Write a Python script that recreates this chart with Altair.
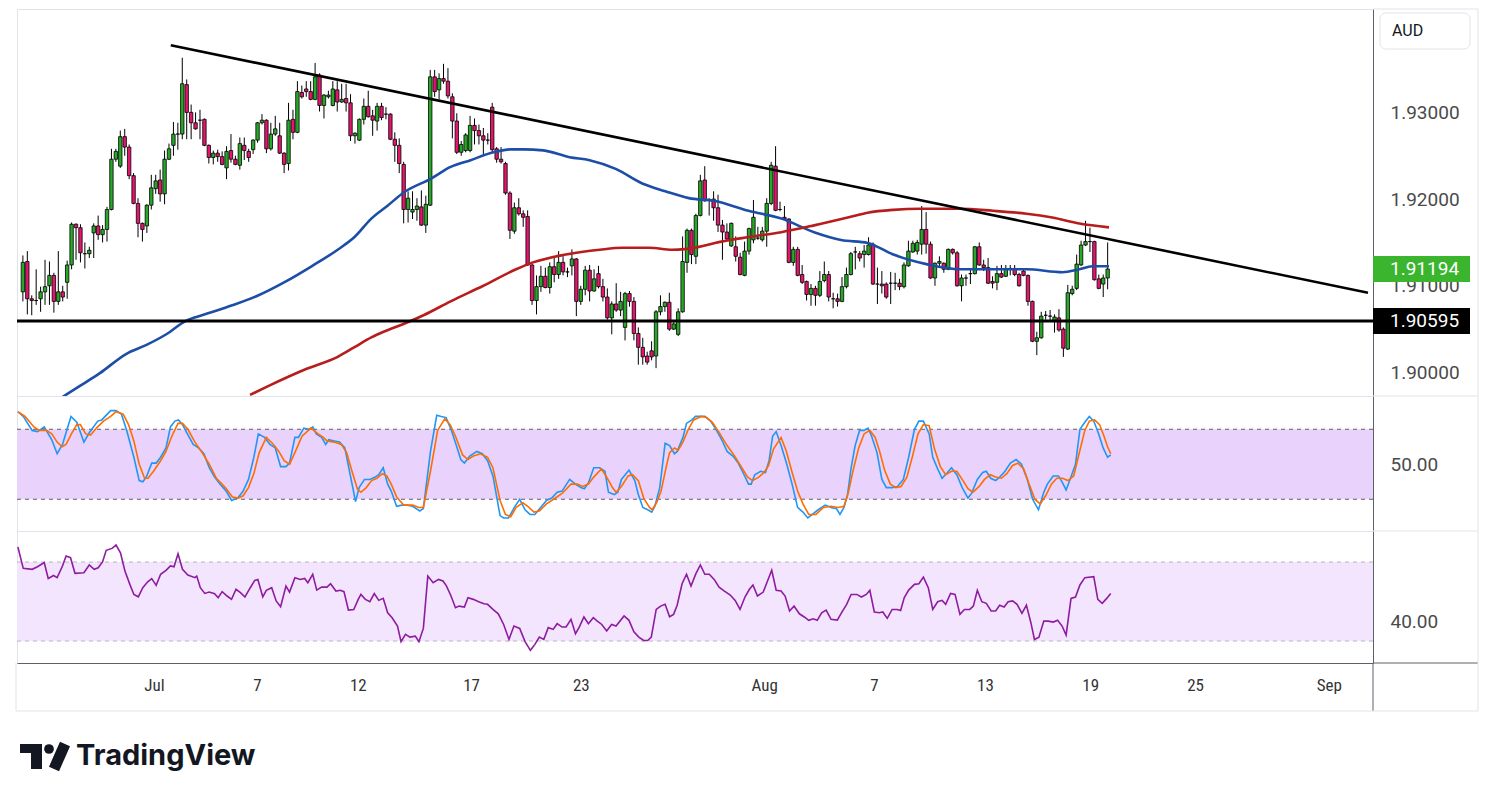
import json
import altair as alt
import pandas as pd

# ---------------- price data (4h candles) ----------------
OPEN = [
    1.9093, 1.9128, 1.9085, 1.9083, 1.9085, 1.9093, 1.9100, 1.9112, 1.9082, 1.9093,
    1.9104, 1.9124, 1.9171, 1.9167, 1.9137, 1.9137, 1.9161, 1.9169, 1.9159, 1.9165,
    1.9188, 1.9246, 1.9238, 1.9272, 1.9260, 1.9227, 1.9195, 1.9172, 1.9169, 1.9193,
    1.9212, 1.9222, 1.9206, 1.9246, 1.9262, 1.9275, 1.9275, 1.9332, 1.9300, 1.9288,
    1.9291, 1.9292, 1.9262, 1.9248, 1.9253, 1.9249, 1.9236, 1.9256, 1.9246, 1.9239,
    1.9262, 1.9255, 1.9257, 1.9268, 1.9288, 1.9291, 1.9258, 1.9275, 1.9273, 1.9253,
    1.9241, 1.9292, 1.9277, 1.9323, 1.9327, 1.9324, 1.9315, 1.9343, 1.9308, 1.9318,
    1.9308, 1.9326, 1.9312, 1.9316, 1.9311, 1.9273, 1.9268, 1.9292, 1.9307, 1.9296,
    1.9290, 1.9307, 1.9298, 1.9298, 1.9269, 1.9262, 1.9240, 1.9188, 1.9185, 1.9188,
    1.9191, 1.9170, 1.9193, 1.9341, 1.9326, 1.9339, 1.9336, 1.9318, 1.9290, 1.9254,
    1.9256, 1.9256, 1.9285, 1.9279, 1.9273, 1.9268, 1.9306, 1.9258, 1.9246, 1.9241,
    1.9207, 1.9163, 1.9190, 1.9183, 1.9180, 1.9124, 1.9083, 1.9099, 1.9111, 1.9098,
    1.9122, 1.9113, 1.9127, 1.9116, 1.9123, 1.9131, 1.9082, 1.9096, 1.9118, 1.9094,
    1.9114, 1.9099, 1.9087, 1.9063, 1.9079, 1.9072, 1.9052, 1.9091, 1.9082, 1.9045,
    1.9029, 1.9019, 1.9025, 1.9019, 1.9070, 1.9076, 1.9081, 1.9050, 1.9044, 1.9070,
    1.9127, 1.9164, 1.9134, 1.9181, 1.9222, 1.9199, 1.9200, 1.9190, 1.9170, 1.9162,
    1.9146, 1.9145, 1.9133, 1.9112, 1.9140, 1.9153, 1.9155, 1.9153, 1.9163, 1.9195,
    1.9238, 1.9188, 1.9179, 1.9177, 1.9127, 1.9142, 1.9113, 1.9105, 1.9090, 1.9097,
    1.9089, 1.9106, 1.9113, 1.9085, 1.9085, 1.9082, 1.9099, 1.9113, 1.9139, 1.9137,
    1.9136, 1.9136, 1.9148, 1.9102, 1.9102, 1.9102, 1.9103, 1.9103, 1.9103, 1.9099,
    1.9123, 1.9139, 1.9140, 1.9148, 1.9165, 1.9148, 1.9109, 1.9126, 1.9126, 1.9119,
    1.9142, 1.9138, 1.9100, 1.9109, 1.9114, 1.9114, 1.9145, 1.9124, 1.9121, 1.9105,
    1.9104, 1.9114, 1.9111, 1.9120, 1.9120, 1.9113, 1.9117, 1.9112, 1.9082, 1.9036,
    1.9040, 1.9066, 1.9065, 1.9059, 1.9063, 1.9050, 1.9027, 1.9091, 1.9097, 1.9124,
    1.9147, 1.9151, 1.9151, 1.9108, 1.9102, 1.9109,
]
HIGH = [
    1.9135, 1.9140, 1.9089, 1.9119, 1.9099, 1.9130, 1.9128, 1.9115, 1.9140, 1.9100,
    1.9129, 1.9173, 1.9172, 1.9171, 1.9150, 1.9145, 1.9172, 1.9181, 1.9170, 1.9191,
    1.9258, 1.9258, 1.9279, 1.9281, 1.9263, 1.9230, 1.9201, 1.9173, 1.9194, 1.9228,
    1.9228, 1.9234, 1.9256, 1.9264, 1.9289, 1.9288, 1.9363, 1.9338, 1.9309, 1.9300,
    1.9303, 1.9293, 1.9263, 1.9256, 1.9257, 1.9255, 1.9261, 1.9275, 1.9250, 1.9271,
    1.9271, 1.9258, 1.9269, 1.9289, 1.9298, 1.9292, 1.9288, 1.9296, 1.9288, 1.9254,
    1.9311, 1.9303, 1.9336, 1.9331, 1.9336, 1.9336, 1.9357, 1.9345, 1.9321, 1.9325,
    1.9336, 1.9336, 1.9333, 1.9333, 1.9321, 1.9277, 1.9293, 1.9316, 1.9325, 1.9303,
    1.9311, 1.9311, 1.9306, 1.9299, 1.9277, 1.9270, 1.9243, 1.9209, 1.9209, 1.9201,
    1.9210, 1.9204, 1.9349, 1.9349, 1.9345, 1.9356, 1.9351, 1.9322, 1.9299, 1.9267,
    1.9276, 1.9296, 1.9293, 1.9286, 1.9282, 1.9276, 1.9311, 1.9260, 1.9260, 1.9243,
    1.9209, 1.9196, 1.9201, 1.9187, 1.9187, 1.9125, 1.9112, 1.9123, 1.9121, 1.9127,
    1.9132, 1.9140, 1.9134, 1.9121, 1.9142, 1.9132, 1.9100, 1.9123, 1.9124, 1.9119,
    1.9123, 1.9108, 1.9097, 1.9082, 1.9103, 1.9093, 1.9093, 1.9094, 1.9087, 1.9052,
    1.9040, 1.9024, 1.9036, 1.9072, 1.9089, 1.9082, 1.9092, 1.9058, 1.9074, 1.9157,
    1.9166, 1.9166, 1.9183, 1.9228, 1.9238, 1.9201, 1.9209, 1.9205, 1.9176, 1.9172,
    1.9173, 1.9157, 1.9138, 1.9151, 1.9167, 1.9199, 1.9168, 1.9168, 1.9201, 1.9243,
    1.9261, 1.9197, 1.9192, 1.9178, 1.9145, 1.9145, 1.9124, 1.9106, 1.9102, 1.9100,
    1.9117, 1.9128, 1.9117, 1.9092, 1.9091, 1.9110, 1.9121, 1.9139, 1.9145, 1.9140,
    1.9147, 1.9156, 1.9150, 1.9121, 1.9117, 1.9104, 1.9116, 1.9115, 1.9108, 1.9127,
    1.9152, 1.9152, 1.9153, 1.9192, 1.9185, 1.9151, 1.9127, 1.9134, 1.9127, 1.9143,
    1.9143, 1.9140, 1.9113, 1.9113, 1.9119, 1.9146, 1.9150, 1.9130, 1.9132, 1.9111,
    1.9123, 1.9124, 1.9124, 1.9124, 1.9124, 1.9115, 1.9119, 1.9113, 1.9083, 1.9047,
    1.9070, 1.9071, 1.9072, 1.9067, 1.9073, 1.9052, 1.9101, 1.9100, 1.9136, 1.9152,
    1.9175, 1.9167, 1.9152, 1.9113, 1.9113, 1.9150,
]
LOW = [
    1.9082, 1.9067, 1.9066, 1.9078, 1.9070, 1.9078, 1.9078, 1.9069, 1.9078, 1.9082,
    1.9085, 1.9119, 1.9130, 1.9127, 1.9120, 1.9132, 1.9132, 1.9153, 1.9150, 1.9151,
    1.9187, 1.9243, 1.9236, 1.9250, 1.9223, 1.9194, 1.9156, 1.9151, 1.9161, 1.9188,
    1.9206, 1.9197, 1.9194, 1.9245, 1.9250, 1.9257, 1.9269, 1.9269, 1.9269, 1.9280,
    1.9269, 1.9261, 1.9241, 1.9240, 1.9243, 1.9239, 1.9223, 1.9242, 1.9239, 1.9234,
    1.9245, 1.9243, 1.9252, 1.9265, 1.9286, 1.9253, 1.9256, 1.9273, 1.9252, 1.9230,
    1.9233, 1.9269, 1.9276, 1.9316, 1.9318, 1.9314, 1.9314, 1.9301, 1.9293, 1.9316,
    1.9307, 1.9301, 1.9311, 1.9301, 1.9267, 1.9264, 1.9267, 1.9286, 1.9294, 1.9273,
    1.9279, 1.9291, 1.9292, 1.9268, 1.9243, 1.9230, 1.9172, 1.9173, 1.9177, 1.9175,
    1.9169, 1.9161, 1.9192, 1.9318, 1.9315, 1.9333, 1.9316, 1.9270, 1.9252, 1.9250,
    1.9254, 1.9254, 1.9263, 1.9263, 1.9252, 1.9263, 1.9254, 1.9242, 1.9241, 1.9205,
    1.9154, 1.9160, 1.9181, 1.9168, 1.9123, 1.9078, 1.9067, 1.9093, 1.9097, 1.9091,
    1.9104, 1.9108, 1.9112, 1.9110, 1.9112, 1.9065, 1.9078, 1.9089, 1.9082, 1.9093,
    1.9097, 1.9082, 1.9061, 1.9044, 1.9070, 1.9065, 1.9037, 1.9076, 1.9037, 1.9009,
    1.9009, 1.9009, 1.9014, 1.9005, 1.9066, 1.9070, 1.9048, 1.9049, 1.9042, 1.9069,
    1.9115, 1.9125, 1.9125, 1.9180, 1.9197, 1.9181, 1.9175, 1.9162, 1.9130, 1.9153,
    1.9145, 1.9128, 1.9112, 1.9111, 1.9136, 1.9149, 1.9153, 1.9151, 1.9145, 1.9193,
    1.9186, 1.9186, 1.9176, 1.9126, 1.9123, 1.9111, 1.9102, 1.9083, 1.9077, 1.9077,
    1.9087, 1.9104, 1.9082, 1.9074, 1.9076, 1.9081, 1.9097, 1.9112, 1.9119, 1.9128,
    1.9121, 1.9135, 1.9101, 1.9079, 1.9091, 1.9085, 1.9079, 1.9095, 1.9095, 1.9097,
    1.9122, 1.9138, 1.9136, 1.9136, 1.9137, 1.9108, 1.9100, 1.9122, 1.9115, 1.9118,
    1.9136, 1.9099, 1.9082, 1.9100, 1.9102, 1.9113, 1.9123, 1.9117, 1.9102, 1.9097,
    1.9095, 1.9109, 1.9110, 1.9112, 1.9111, 1.9099, 1.9111, 1.9077, 1.9035, 1.9020,
    1.9039, 1.9061, 1.9059, 1.9046, 1.9047, 1.9018, 1.9026, 1.9089, 1.9095, 1.9123,
    1.9146, 1.9139, 1.9106, 1.9096, 1.9087, 1.9096,
]
CLOSE = [
    1.9127, 1.9085, 1.9083, 1.9083, 1.9093, 1.9099, 1.9112, 1.9082, 1.9093, 1.9087,
    1.9124, 1.9171, 1.9167, 1.9138, 1.9137, 1.9141, 1.9169, 1.9159, 1.9165, 1.9188,
    1.9246, 1.9255, 1.9272, 1.9260, 1.9227, 1.9195, 1.9172, 1.9165, 1.9193, 1.9213,
    1.9221, 1.9206, 1.9246, 1.9258, 1.9275, 1.9275, 1.9333, 1.9300, 1.9288, 1.9281,
    1.9291, 1.9262, 1.9248, 1.9253, 1.9249, 1.9240, 1.9255, 1.9246, 1.9240, 1.9264,
    1.9256, 1.9248, 1.9268, 1.9288, 1.9291, 1.9258, 1.9275, 1.9281, 1.9253, 1.9240,
    1.9291, 1.9277, 1.9324, 1.9318, 1.9324, 1.9315, 1.9341, 1.9308, 1.9320, 1.9320,
    1.9327, 1.9312, 1.9315, 1.9311, 1.9273, 1.9276, 1.9292, 1.9307, 1.9295, 1.9291,
    1.9307, 1.9294, 1.9298, 1.9269, 1.9262, 1.9241, 1.9188, 1.9201, 1.9188, 1.9192,
    1.9170, 1.9194, 1.9341, 1.9324, 1.9339, 1.9336, 1.9319, 1.9290, 1.9254, 1.9263,
    1.9274, 1.9285, 1.9279, 1.9273, 1.9268, 1.9268, 1.9257, 1.9246, 1.9243, 1.9207,
    1.9164, 1.9190, 1.9183, 1.9179, 1.9124, 1.9083, 1.9099, 1.9111, 1.9098, 1.9122,
    1.9113, 1.9127, 1.9116, 1.9116, 1.9131, 1.9082, 1.9096, 1.9118, 1.9094, 1.9108,
    1.9099, 1.9087, 1.9063, 1.9079, 1.9072, 1.9082, 1.9091, 1.9082, 1.9045, 1.9029,
    1.9018, 1.9012, 1.9018, 1.9070, 1.9076, 1.9081, 1.9050, 1.9056, 1.9070, 1.9128,
    1.9164, 1.9136, 1.9181, 1.9221, 1.9198, 1.9199, 1.9190, 1.9170, 1.9162, 1.9154,
    1.9172, 1.9134, 1.9113, 1.9140, 1.9166, 1.9179, 1.9155, 1.9163, 1.9195, 1.9239,
    1.9187, 1.9188, 1.9177, 1.9127, 1.9142, 1.9112, 1.9104, 1.9090, 1.9097, 1.9089,
    1.9105, 1.9113, 1.9087, 1.9085, 1.9082, 1.9099, 1.9113, 1.9137, 1.9139, 1.9132,
    1.9140, 1.9147, 1.9102, 1.9102, 1.9100, 1.9087, 1.9103, 1.9103, 1.9099, 1.9124,
    1.9140, 1.9149, 1.9150, 1.9165, 1.9148, 1.9109, 1.9126, 1.9128, 1.9119, 1.9142,
    1.9138, 1.9100, 1.9109, 1.9109, 1.9114, 1.9145, 1.9124, 1.9121, 1.9103, 1.9103,
    1.9114, 1.9110, 1.9120, 1.9120, 1.9113, 1.9100, 1.9112, 1.9082, 1.9036, 1.9040,
    1.9065, 1.9066, 1.9065, 1.9064, 1.9049, 1.9028, 1.9092, 1.9096, 1.9125, 1.9147,
    1.9151, 1.9151, 1.9107, 1.9097, 1.9109, 1.91194,
]

# moving averages (bar index, price)
BLUE_IDX = [9.0, 12.8, 17.3, 23.3, 27.8, 32.3, 36.8, 40.6, 47.3, 53.1, 59.2, 65.2, 71.1,
            74.9, 78.7, 82.3, 86.1, 92.2, 96.6, 101.1, 106.3, 110.1, 113.0, 117.5, 123.5,
            128.0, 133.9, 139.9, 145.1, 150.4, 156.3, 163.9, 171.3, 178.7, 184.8, 190.8,
            196.6, 204.3, 211.7, 219.1, 226.7, 234.8, 238.6, 241.5, 245.3]
BLUE_VAL = [1.8972, 1.89843, 1.89989, 1.90213, 1.90315, 1.90438, 1.90596, 1.90663, 1.90775,
            1.90888, 1.91045, 1.91225, 1.91416, 1.91562, 1.91775, 1.91921, 1.92079, 1.92236,
            1.92371, 1.92449, 1.92539, 1.92573, 1.92573, 1.92562, 1.92483, 1.92449, 1.92348,
            1.92180, 1.92090, 1.92011, 1.91978, 1.91865, 1.91775, 1.91618, 1.91528, 1.91494,
            1.91360, 1.91247, 1.91191, 1.91191, 1.91191, 1.91157, 1.91191, 1.91225, 1.91225]
RED_IDX = [51.3, 55.4, 63.7, 71.1, 74.9, 78.7, 81.6, 86.1, 90.6, 96.6, 104.0, 111.4, 115.2,
           122.6, 130.3, 135.4, 141.5, 146.6, 152.7, 156.3, 163.9, 171.3, 178.7, 186.3,
           190.8, 196.6, 202.7, 211.7, 219.1, 226.7, 232.5, 238.6, 245.3]
RED_VAL = [1.89742, 1.89843, 1.90034, 1.90180, 1.90292, 1.90404, 1.90472, 1.90562, 1.90663,
           1.90820, 1.91000, 1.91191, 1.91270, 1.91360, 1.91416, 1.91438, 1.91438, 1.91416,
           1.91449, 1.91494, 1.91562, 1.91618, 1.91697, 1.91787, 1.91843, 1.91876, 1.91888,
           1.91888, 1.91865, 1.91831, 1.91787, 1.91719, 1.91674]

TREND_IDX = [33.4, 303.8]
TREND_VAL = [1.93775, 1.90919]
SUPPORT = 1.90595
LAST = 1.91194

# stochastic (bar index, value)
STO_K_IDX = [0, 1.2, 3.2, 4.4, 5.9, 7.6, 8.8, 10.0, 11.9, 13.2, 14.8, 16.0, 17.9, 18.8, 20.8, 22.0,
             23.2, 24.4, 26.0, 27.2, 28.0, 28.8, 30.0, 31.0, 32.0, 33.2, 34.2, 35.2, 36.0, 36.9,
             38.0, 39.3, 40.5, 41.7, 42.9, 44.1, 45.3, 46.7, 47.9, 49.3, 50.5, 51.7, 52.9, 53.9,
             55.3, 56.5, 57.7, 58.9, 60.1, 60.9, 62.1, 62.9, 64.1, 65.3, 66.1, 66.9, 68.1, 69.0,
             69.7, 70.9, 72.1, 73.3, 74.5, 75.7, 76.5, 77.7, 78.9, 80.1, 80.9, 81.9, 82.9, 83.7,
             84.9, 86.1, 87.3, 88.5, 90.1, 90.9, 92.5, 93.9, 94.9, 96.0, 97.2, 98.3, 99.3, 100.1,
             101.3, 102.9, 104.1, 105.3, 106.5, 108.1, 108.9, 110.0, 111.3, 112.5, 113.7, 114.8,
             115.9, 117.2, 118.5, 119.7, 120.9, 122.0, 123.7, 125.0, 126.2, 127.0, 127.9, 129.1,
             130.4, 131.6, 132.4, 133.7, 134.5, 135.3, 137.0, 138.3, 139.1, 140.1, 141.2, 142.1,
             142.8, 143.9, 145.1, 146.1, 147.2, 147.8, 149.1, 149.9, 151.1, 151.9, 154.0, 155.3,
             156.5, 157.8, 159.0, 160.3, 161.5, 162.8, 163.8, 164.4, 165.2, 166.5, 167.6, 168.4,
             169.2, 170.0, 171.1, 172.3, 173.5, 174.8, 176.0, 177.1, 178.1, 179.4, 181.0, 182.3,
             183.5, 184.3, 185.2, 186.0, 186.8, 187.7, 188.7, 189.7, 190.6, 191.4, 192.6, 193.7,
             194.7, 196.0, 197.2, 198.5, 199.7, 201.0, 202.0, 203.0, 204.3, 205.1, 206.2, 207.2,
             208.4, 209.3, 210.5, 211.7, 213.0, 213.8, 215.1, 216.3, 217.1, 218.1, 219.2, 220.1,
             221.3, 222.5, 223.8, 225.0, 226.3, 227.5, 228.8, 230.0, 230.8, 232.1, 233.3, 234.2,
             235.0, 235.8, 237.1, 238.1, 239.2, 240.2, 241.2, 242.3, 243.3, 244.3, 245.0]
STO_K_VAL = [95, 91, 79, 78, 82, 71, 59, 67, 91, 86, 69, 77, 87, 88, 96, 96,
             93, 79, 56, 36, 35, 39, 51, 51, 56, 64, 82, 87, 88, 84,
             76, 67, 64, 59, 47, 39, 33, 27, 19, 21, 27, 37, 56, 76,
             73, 67, 64, 48, 48, 51, 73, 73, 81, 80, 82, 76, 73, 67,
             71, 70, 69, 64, 41, 18, 30, 37, 37, 39, 41, 47, 33, 27,
             14, 15, 15, 14, 10, 12, 61, 92, 91, 90, 79, 66, 54, 51,
             57, 61, 59, 53, 40, 6, 4, 4, 13, 20, 11, 7,
             7, 13, 19, 21, 26, 27, 37, 33, 30, 29, 34, 47,
             47, 44, 26, 24, 26, 37, 45, 36, 24, 13, 11, 9,
             14, 30, 68, 66, 59, 61, 73, 85, 88, 91, 91, 87,
             80, 71, 61, 57, 51, 41, 33, 33, 41, 44, 43, 53,
             74, 78, 66, 51, 34, 13, 9, 4, 7, 11, 15, 13,
             12, 7, 13, 24, 47, 66, 79, 79, 81, 74, 60, 37,
             30, 30, 31, 37, 56, 80, 87, 87, 76, 56, 46, 38,
             43, 47, 41, 30, 21, 25, 37, 43, 44, 38, 36, 39,
             44, 51, 54, 50, 37, 20, 11, 26, 33, 40, 40, 34,
             28, 36, 50, 80, 86, 91, 87, 76, 64, 56, 58]
STO_D_IDX = [0, 1.6, 3.6, 4.8, 6.4, 7.6, 8.8, 9.9, 10.8, 12.0, 13.2, 14.0, 15.2, 16.3, 17.6, 19.2,
             20.8, 22.0, 23.6, 24.8, 26.0, 27.2, 28.4, 29.2, 30.4, 32.0, 33.2, 34.5, 35.9, 36.9,
             38.1, 39.7, 41.3, 42.9, 44.5, 46.5, 48.1, 49.3, 50.5, 51.7, 52.9, 54.1, 55.7, 57.3,
             58.5, 59.7, 60.9, 62.1, 63.7, 65.7, 67.3, 68.5, 69.3, 70.9, 72.5, 73.7, 74.9, 76.1,
             76.9, 78.1, 79.3, 80.5, 81.7, 82.7, 83.7, 84.9, 86.5, 88.5, 89.9, 90.9, 92.5, 94.1,
             95.7, 96.9, 98.1, 99.7, 100.9, 102.1, 103.7, 105.3, 106.5, 108.1, 109.3, 110.5,
             111.7, 113.2, 114.3, 115.7, 116.9, 118.5, 120.1, 122.0, 124.0, 125.4, 126.6, 127.9,
             129.1, 130.8, 132.0, 133.3, 134.1, 135.3, 136.8, 137.8, 139.1, 140.3, 141.6, 142.2,
             143.2, 144.2, 145.3, 146.1, 147.2, 148.0, 149.1, 150.3, 151.5, 153.2, 154.4, 155.7,
             157.4, 159.0, 160.7, 162.3, 163.6, 164.7, 166.1, 167.3, 168.3, 169.4, 171.1, 172.3,
             173.5, 174.8, 176.0, 177.3, 178.9, 180.6, 182.3, 183.9, 185.2, 186.2, 187.2, 188.5,
             189.7, 191.0, 192.2, 193.2, 194.3, 195.6, 196.8, 198.0, 199.3, 200.5, 201.8, 203.0,
             204.3, 205.5, 206.8, 208.0, 209.3, 210.5, 211.7, 213.0, 214.1, 215.5, 216.7, 218.0,
             219.2, 220.5, 221.7, 223.0, 224.2, 225.5, 226.7, 228.0, 229.2, 230.4, 231.7, 232.9,
             234.2, 235.4, 236.7, 237.9, 239.2, 240.2, 241.4, 242.5, 243.5, 244.3, 245.0]
STO_D_VAL = [95, 91, 82, 79, 79, 76, 69, 65, 67, 76, 84, 84, 76, 75, 81, 87,
             91, 95, 93, 84, 70, 50, 38, 38, 44, 53, 61, 74, 85, 85,
             80, 69, 60, 50, 38, 30, 22, 21, 23, 30, 42, 60, 73, 67,
             61, 53, 50, 60, 74, 81, 76, 73, 70, 69, 67, 60, 44, 29,
             26, 30, 36, 38, 42, 40, 33, 22, 15, 15, 13, 13, 44, 79,
             89, 84, 74, 58, 54, 57, 59, 56, 47, 19, 7, 5,
             13, 17, 14, 9, 10, 16, 20, 25, 33, 33, 31, 33,
             39, 46, 39, 30, 26, 31, 40, 41, 36, 21, 13, 11,
             17, 27, 47, 60, 64, 62, 69, 80, 88, 91, 90, 86,
             76, 66, 57, 47, 39, 36, 39, 43, 49, 63, 73, 61,
             44, 27, 16, 7, 7, 13, 14, 13, 14, 26, 44, 64,
             76, 79, 73, 61, 45, 33, 30, 31, 39, 56, 76, 84,
             83, 63, 48, 41, 44, 44, 37, 29, 26, 31, 37, 41,
             39, 38, 42, 49, 51, 46, 33, 20, 16, 23, 33, 38,
             38, 36, 40, 59, 79, 87, 88, 84, 74, 65, 59]

# RSI (bar index, value)
RSI_IDX = [0, 1.2, 3.2, 4.4, 5.9, 6.8, 8.0, 8.8, 10.0, 10.8, 11.8, 12.8, 14.8, 16.0, 17.1, 18.0,
           19.0, 19.8, 21.1, 22.0, 23.0, 24.0, 25.1, 26.0, 27.0, 28.0, 29.1, 30.0, 31.0, 32.0,
           33.2, 34.2, 35.0, 35.9, 36.9, 38.1, 39.7, 40.1, 40.9, 41.9, 42.9, 44.1, 44.9, 45.8,
           46.9, 47.9, 48.9, 49.9, 50.9, 52.1, 53.1, 53.8, 54.9, 55.7, 56.9, 57.9, 58.9, 60.1,
           60.9, 62.1, 63.3, 64.3, 65.0, 66.1, 67.0, 68.1, 69.3, 70.1, 71.3, 72.3, 73.1, 74.1,
           75.3, 76.3, 76.9, 77.9, 78.9, 79.9, 80.9, 81.9, 82.9, 83.9, 85.1, 85.9, 86.9, 87.9,
           89.1, 89.9, 90.9, 91.9, 93.1, 94.3, 95.3, 96.1, 97.1, 98.1, 98.9, 100.1, 100.9, 102.1,
           103.3, 104.5, 105.3, 106.5, 107.7, 108.9, 110.1, 111.2, 112.5, 113.7, 114.9, 115.9,
           116.9, 117.9, 118.9, 120.0, 120.9, 122.0, 122.9, 124.0, 125.0, 125.8, 126.9, 127.9,
           129.0, 129.9, 130.9, 132.0, 133.1, 134.1, 135.9, 137.0, 138.1, 139.2, 140.3, 141.2,
           142.0, 143.1, 144.1, 145.1, 146.1, 147.0, 147.8, 148.9, 149.9, 150.9, 152.0, 153.0,
           154.0, 155.0, 156.1, 157.2, 158.4, 159.7, 160.8, 161.9, 163.0, 164.0, 164.8, 165.8,
           167.1, 169.0, 170.0, 171.1, 172.0, 173.0, 174.0, 175.2, 176.3, 177.3, 178.3, 179.2,
           180.2, 181.2, 182.3, 183.7, 184.8, 185.8, 186.8, 188.1, 189.1, 190.2, 191.0, 192.0,
           193.1, 193.9, 194.9, 196.0, 197.1, 197.9, 198.7, 199.7, 201.0, 202.0, 203.0, 204.1,
           205.1, 206.2, 207.2, 208.0, 209.1, 210.1, 211.2, 212.2, 213.4, 214.2, 215.1, 216.1,
           217.1, 218.2, 219.2, 220.1, 221.1, 222.0, 223.0, 224.0, 225.1, 226.1, 227.1, 227.9,
           228.9, 230.0, 231.0, 232.1, 233.1, 234.1, 235.0, 236.1, 237.1, 238.1, 239.2, 241.2,
           242.1, 243.1, 244.1, 245.0]
RSI_VAL = [77.6, 66.8, 66.3, 67.6, 69.7, 61.7, 63.2, 62.1, 68.0, 73.0, 72.2, 64.3, 64.6, 68.5, 66.3, 67.1,
           70.2, 75.9, 76.9, 78.6, 74.7, 65.4, 58.7, 53.6, 52.4, 57.0, 60.0, 61.6, 58.2, 63.8,
           65.8, 68.0, 67.6, 74.2, 66.3, 63.4, 62.1, 62.9, 57.0, 54.1, 54.8, 54.0, 51.9, 55.0,
           52.8, 51.1, 56.2, 54.5, 52.3, 57.0, 60.7, 61.2, 52.4, 55.7, 57.0, 50.3, 47.4, 57.8,
           54.8, 62.1, 61.2, 61.7, 59.5, 63.8, 55.8, 57.3, 57.3, 59.0, 55.3, 55.7, 55.0, 45.7,
           46.0, 51.1, 53.6, 51.1, 49.9, 54.0, 50.6, 51.6, 44.3, 41.8, 37.6, 29.7, 33.4, 32.0,
           32.5, 29.7, 36.4, 62.9, 59.5, 61.2, 60.4, 57.8, 52.8, 46.9, 47.7, 47.2, 51.9, 51.1,
           49.9, 48.9, 48.6, 46.0, 43.8, 38.4, 30.8, 37.6, 36.4, 29.7, 25.3, 28.3,
           32.0, 30.8, 36.8, 35.9, 38.8, 37.1, 37.1, 41.0, 33.7, 36.8, 42.2, 38.8,
           41.8, 40.1, 38.4, 35.1, 38.4, 37.6, 42.7, 40.5, 34.7, 32.0, 30.3, 30.3,
           32.0, 46.0, 47.7, 48.6, 42.3, 43.5, 48.1, 59.0, 63.8, 57.8, 64.1, 68.5,
           63.8, 63.8, 61.2, 57.3, 55.3, 53.3, 50.6, 46.0, 52.3, 56.2, 58.4, 52.8,
           54.8, 65.8, 55.7, 55.3, 52.8, 45.2, 47.7, 43.8, 42.2, 40.5, 41.3, 40.5,
           44.3, 45.7, 41.0, 40.6, 44.9, 48.6, 53.6, 53.6, 52.3, 53.6, 55.7, 44.7,
           44.3, 44.7, 41.5, 46.0, 46.0, 45.5, 51.9, 55.8, 58.7, 59.0, 62.4, 57.0,
           46.0, 49.9, 50.6, 48.6, 54.1, 53.6, 43.5, 46.0, 46.0, 47.7, 55.7, 49.9,
           49.1, 45.2, 45.2, 48.1, 47.2, 49.9, 50.3, 48.6, 44.0, 48.2, 39.3, 30.8,
           32.0, 40.1, 40.1, 39.6, 40.5, 37.6, 33.0, 51.6, 52.3, 58.4, 62.1, 62.6,
           51.1, 49.1, 51.6, 54.1]

STO_BAND = [20, 80]
RSI_BAND = [30, 70]
PRICE_TICKS = [1.90, 1.91, 1.92, 1.93]
TICK_IDX = [30.5, 53.6, 76.2, 101.6, 126.2, 167.3, 191.9, 216.8, 240.4, 263.9, 293.9]
TICK_LAB = ["Jul", "7", "12", "17", "23", "Aug", "7", "13", "19", "25", "Sep"]

# ---------------- layout / style ----------------
W = 1356
H_MAIN, H_STO, H_RSI = 387, 135, 132
X_DOM = [-0.2, 303.8]
Y_DOM = [1.897865, 1.941348]
S_DOM = [-7.2, 108.5]
R_DOM = [18.9, 85.7]
UP, DOWN = "#27a827", "#e5156d"
DARK = "#5d606b"
FRAME = "#e0e3eb"
FONT = "Roboto"
LBL = dict(labelFont=FONT, labelFontSize=19, labelColor="#4a4a4a", labelPadding=17,
           ticks=False, grid=False, domainColor=DARK, domainWidth=1, title=None)

xs = alt.Scale(domain=X_DOM, nice=False, zero=False)
ys = alt.Scale(domain=Y_DOM, nice=False, zero=False)
ss = alt.Scale(domain=S_DOM, nice=False, zero=False)
rs = alt.Scale(domain=R_DOM, nice=False, zero=False)
X = alt.X("i:Q", scale=xs, axis=None)

# ---------------- main price pane ----------------
candles = pd.DataFrame({"i": list(range(len(OPEN))), "o": OPEN, "h": HIGH, "l": LOW, "c": CLOSE})
candles["dir"] = ["up" if c >= o else "down" for o, c in zip(OPEN, CLOSE)]

wicks = alt.Chart(candles).mark_rule(color="#000", strokeWidth=1).encode(
    x=X, y=alt.Y("l:Q", scale=ys, axis=alt.Axis(orient="right", values=PRICE_TICKS, format=".5f", **LBL)),
    y2="h:Q")
bodies = alt.Chart(candles).mark_bar(width=3.4, stroke="#000", strokeWidth=0.8).encode(
    x=X, y=alt.Y("o:Q", scale=ys), y2="c:Q",
    color=alt.Color("dir:N", scale=alt.Scale(domain=["up", "down"], range=[UP, DOWN]), legend=None))

blue = alt.Chart(pd.DataFrame({"i": BLUE_IDX, "v": BLUE_VAL})).mark_line(
    color="#1c4ea7", strokeWidth=2.6, interpolate="monotone", clip=True).encode(
    x=X, y=alt.Y("v:Q", scale=ys))
red = alt.Chart(pd.DataFrame({"i": RED_IDX, "v": RED_VAL})).mark_line(
    color="#b81d1d", strokeWidth=2.6, interpolate="monotone", clip=True).encode(
    x=X, y=alt.Y("v:Q", scale=ys))
trend = alt.Chart(pd.DataFrame({"i": TREND_IDX, "v": TREND_VAL})).mark_line(
    color="#000", strokeWidth=2.6, clip=True).encode(x=X, y=alt.Y("v:Q", scale=ys))
support = alt.Chart(pd.DataFrame({"v": [SUPPORT]})).mark_rule(color="#000", strokeWidth=3).encode(
    y=alt.Y("v:Q", scale=ys))

lab = pd.DataFrame({"v": [LAST, SUPPORT], "bg": ["#3bb52e", "#000000"]})
lab["t"] = [f"{v:.5f}" for v in lab["v"]]
boxes = alt.Chart(lab).mark_bar(orient="horizontal", size=26, clip=False).encode(
    y=alt.Y("v:Q", scale=ys), x=alt.value(W), x2=alt.value(W + 97),
    color=alt.Color("bg:N", scale=None))
box_text = alt.Chart(lab).mark_text(align="left", baseline="middle", color="white",
                                    font=FONT, fontSize=19, clip=False).encode(
    y=alt.Y("v:Q", scale=ys), x=alt.value(W + 17), text="t:N")

cur = pd.DataFrame({"t": ["AUD"]})
aud_box = alt.Chart(cur).mark_rect(fill="white", stroke=FRAME, strokeWidth=1, cornerRadius=6,
                                   clip=False).encode(
    x=alt.value(W + 7), x2=alt.value(W + 97), y=alt.value(4), y2=alt.value(40))
aud_text = alt.Chart(cur).mark_text(align="left", baseline="middle", color="#131722",
                                    font=FONT, fontSize=16, clip=False).encode(
    x=alt.value(W + 19), y=alt.value(22), text="t:N")
top_edge = alt.Chart(cur).mark_rule(color=FRAME, clip=False).encode(
    x=alt.value(W), x2=alt.value(W + 105), y=alt.value(0))

main = alt.layer(wicks, bodies, blue, red, trend, support, boxes, box_text,
                 aud_box, aud_text, top_edge).properties(width=W, height=H_MAIN)

# ---------------- stochastic pane ----------------
band_s = alt.Chart(pd.DataFrame({"lo": [STO_BAND[0]], "hi": [STO_BAND[1]],
                                 "i": [X_DOM[0]], "i2": [X_DOM[1]]})).mark_rect(color="#e9d2fb").encode(
    x=X, x2="i2:Q",
    y=alt.Y("lo:Q", scale=ss, axis=alt.Axis(orient="right", values=[50], format=".2f", **LBL)),
    y2="hi:Q")
rules_s = alt.Chart(pd.DataFrame({"v": STO_BAND})).mark_rule(
    color="#5f5f5f", strokeDash=[4, 4], strokeWidth=1).encode(y=alt.Y("v:Q", scale=ss))
k_line = alt.Chart(pd.DataFrame({"i": STO_K_IDX, "v": STO_K_VAL})).mark_line(
    color="#2196f3", strokeWidth=1.6, clip=True).encode(x=X, y=alt.Y("v:Q", scale=ss))
d_line = alt.Chart(pd.DataFrame({"i": STO_D_IDX, "v": STO_D_VAL})).mark_line(
    color="#ff6d00", strokeWidth=1.6, clip=True).encode(x=X, y=alt.Y("v:Q", scale=ss))
sep_s = alt.Chart(cur).mark_rule(color=FRAME, clip=False).encode(
    x=alt.value(W), x2=alt.value(W + 105), y=alt.value(0))
sto = alt.layer(band_s, rules_s, k_line, d_line, sep_s).properties(width=W, height=H_STO)

# ---------------- RSI pane ----------------
label_expr = f"{json.dumps(TICK_LAB)}[indexof({json.dumps(TICK_IDX)}, datum.value)]"
x_axis = alt.Axis(values=TICK_IDX, labelExpr=label_expr, ticks=False, grid=False,
                  domainColor=DARK, domainWidth=1, labelPadding=14, labelFontSize=17,
                  labelFont="Liberation Sans Narrow, Roboto Condensed, Roboto",
                  labelColor="#333333", labelOverlap=False, title=None)
band_r = alt.Chart(pd.DataFrame({"lo": [RSI_BAND[0]], "hi": [RSI_BAND[1]],
                                 "i": [X_DOM[0]], "i2": [X_DOM[1]]})).mark_rect(color="#f3e5fd").encode(
    x=alt.X("i:Q", scale=xs, axis=x_axis), x2="i2:Q",
    y=alt.Y("lo:Q", scale=rs, axis=alt.Axis(orient="right", values=[40], format=".2f", **LBL)),
    y2="hi:Q")
rules_r = alt.Chart(pd.DataFrame({"v": RSI_BAND})).mark_rule(
    color="#b9b4bd", strokeDash=[4, 4], strokeWidth=1).encode(y=alt.Y("v:Q", scale=rs))
rsi_line = alt.Chart(pd.DataFrame({"i": RSI_IDX, "v": RSI_VAL})).mark_line(
    color="#8e1ca0", strokeWidth=1.6, clip=True).encode(x=alt.X("i:Q", scale=xs), y=alt.Y("v:Q", scale=rs))
sep_r = alt.Chart(cur).mark_rule(color=FRAME, clip=False).encode(
    x=alt.value(W), x2=alt.value(W + 105), y=alt.value(0))
bottom_dark = alt.Chart(cur).mark_rule(color=DARK, clip=False).encode(
    x=alt.value(W), x2=alt.value(W + 105), y=alt.value(H_RSI))
axis_vsep = alt.Chart(cur).mark_rule(color=DARK, clip=False).encode(
    x=alt.value(W), y=alt.value(H_RSI), y2=alt.value(H_RSI + 48))
frame_right = alt.Chart(cur).mark_rule(color=FRAME, clip=False).encode(
    x=alt.value(W + 105), y=alt.value(-H_MAIN - H_STO), y2=alt.value(H_RSI + 48))
frame_bottom = alt.Chart(cur).mark_rule(color=FRAME, clip=False).encode(
    x=alt.value(-1), x2=alt.value(W + 105), y=alt.value(H_RSI + 48))
frame_left = alt.Chart(cur).mark_rule(color=FRAME, clip=False).encode(
    x=alt.value(-1), y=alt.value(H_RSI), y2=alt.value(H_RSI + 48))

# TradingView logo
brand = pd.DataFrame({"t": ["TradingView"]})
logo_bar = alt.Chart(brand).mark_rect(color="#131722", clip=False).encode(
    x=alt.value(3), x2=alt.value(25), y=alt.value(213), y2=alt.value(222))
logo_stem = alt.Chart(brand).mark_rect(color="#131722", clip=False).encode(
    x=alt.value(14), x2=alt.value(25), y=alt.value(213), y2=alt.value(238))
logo_dot = alt.Chart(brand).mark_point(filled=True, color="#131722", size=95, opacity=1,
                                       shape="circle", clip=False).encode(
    x=alt.value(32), y=alt.value(218))
logo_slash = alt.Chart(brand).mark_rule(color="#131722", strokeWidth=11, strokeCap="butt",
                                        clip=False).encode(
    x=alt.value(48), x2=alt.value(37), y=alt.value(213), y2=alt.value(238))
logo_text = alt.Chart(brand).mark_text(align="left", baseline="middle", font="Inter",
                                       fontWeight=700, fontSize=29, color="#131722",
                                       clip=False).encode(
    x=alt.value(59), y=alt.value(225), text="t:N")

rsi = alt.layer(band_r, rules_r, rsi_line, sep_r, bottom_dark, axis_vsep, frame_right,
                frame_bottom, frame_left, logo_bar, logo_stem, logo_dot, logo_slash,
                logo_text).properties(width=W, height=H_RSI)

chart = alt.vconcat(main, sto, rsi, spacing=0, bounds="flush").properties(
    padding={"left": 7, "top": 0, "right": 2, "bottom": 2},
    background="white",
).configure_view(stroke=FRAME, strokeWidth=1)

chart.save("out.html", embed_options={"renderer": "svg", "actions": False})
